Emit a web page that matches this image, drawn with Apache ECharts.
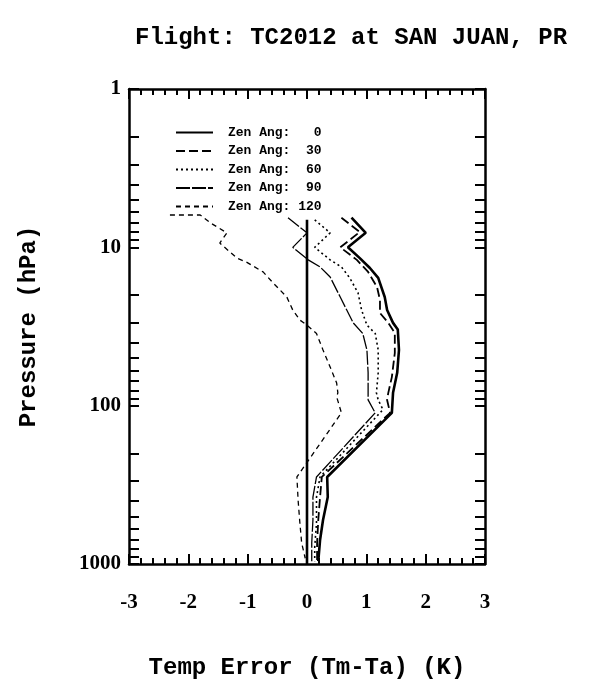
<!DOCTYPE html>
<html>
<head>
<meta charset="utf-8">
<script src="https://cdn.jsdelivr.net/npm/echarts@6/dist/echarts.min.js"></script>
<style>
html, body { margin: 0; padding: 0; background: #fff; }
#chart { width: 602px; height: 687px; }
</style>
</head>
<body>
<div id="chart"></div>
<script>
// values: pressure (hPa) and temp error (K)
const pres0 = [6.5, 8.1, 10, 11.7, 13.5, 15.6, 20.6, 24.9, 30, 33, 44.5, 62, 83, 111, 282, 378, 527, 706, 960]
const temp0 = [0.75, 0.99, 0.69, 0.89, 1.06, 1.20, 1.31, 1.35, 1.45, 1.53, 1.55, 1.52, 1.45, 1.43, 0.34, 0.35, 0.27, 0.22, 0.19]

const pres30 = [6.5, 8.0, 10, 12, 14.3, 17.8, 21.5, 26, 30, 34.8, 46.5, 66, 83, 92, 111, 282, 378, 527, 736, 960]
const temp30 = [0.58, 0.89, 0.56, 0.84, 1.03, 1.18, 1.23, 1.23, 1.37, 1.48, 1.48, 1.43, 1.37, 1.35, 1.40, 0.25, 0.22, 0.19, 0.17, 0.17]

const pres60 = [6.7, 8.1, 10, 12, 13.3, 15.6, 19.4, 24.9, 31, 35, 44.5, 62, 83, 92, 106, 282, 378, 551, 782, 960]
const temp60 = [0.13, 0.39, 0.13, 0.39, 0.58, 0.72, 0.86, 0.92, 1.01, 1.15, 1.20, 1.20, 1.17, 1.20, 1.28, 0.22, 0.16, 0.16, 0.13, 0.13]

const pres90 = [6.5, 8.1, 10, 12, 13.3, 15.4, 20.6, 24.9, 30, 35, 44.5, 62, 83, 92, 111, 282, 378, 527, 736, 960]
const temp90 = [-0.32, 0.0, -0.24, 0.02, 0.22, 0.39, 0.56, 0.67, 0.78, 0.94, 1.01, 1.03, 1.03, 1.03, 1.15, 0.16, 0.10, 0.10, 0.08, 0.08]

const pres120 = [6.25, 6.25, 7.0, 8.1, 9.4, 11.7, 12.4, 14.3, 16.8, 20.6, 24.9, 28.8, 31, 35, 44.5, 57, 72, 83, 88, 111, 282, 395, 551, 736, 920]
const temp120 = [-2.31, -1.80, -1.63, -1.35, -1.47, -1.18, -1.02, -0.74, -0.57, -0.34, -0.24, -0.12, 0.0, 0.16, 0.27, 0.39, 0.50, 0.52, 0.50, 0.58, -0.17, -0.15, -0.12, -0.09, -0.03]

const zeroPres = [6.7, 1000]
const zeroTemp = [0, 0]

const angles = ['0', '30', '60', '90', '120']
const presTicks = [1, 2, 3, 4, 5, 6, 7, 8, 9, 10, 20, 30, 40, 50, 60, 70, 80, 90, 100, 200, 300, 400, 500, 600, 700, 800, 900, 1000]
const presLabels = [1, 10, 100, 1000]

const lg = Math.log10
function pts(t, p) {
  return t.map((v, i) => [v, lg(p[i])])
}

const chart = echarts.init(document.getElementById('chart'))

const bold = { fontFamily: 'Liberation Serif', fontWeight: 'bold', color: '#000' }
const mono = { fontFamily: 'Liberation Mono', fontWeight: 'bold', color: '#000' }

function yAxis(pos, showLabel) {
  return {
    type: 'value',
    position: pos,
    inverse: true,
    min: 0,
    max: 3,
    name: showLabel ? 'Pressure (hPa)' : '',
    nameLocation: 'middle',
    nameGap: 88,
    nameTextStyle: Object.assign({ fontSize: 24 }, mono),
    axisLine: { show: true, onZero: false, lineStyle: { color: '#000', width: 2.5 } },
    axisTick: { show: true, inside: true, length: 10, customValues: presTicks.map(lg), lineStyle: { color: '#000', width: 2 } },
    axisLabel: {
      show: showLabel,
      customValues: presLabels.map(lg),
      formatter: v => String(Math.round(Math.pow(10, v))),
      fontSize: 21,
      margin: 8,
      padding: [0, 0, 12, 0],
      ...bold
    },
    splitLine: { show: false }
  }
}

function xAxis(pos, showLabel) {
  return {
    type: 'value',
    position: pos,
    min: -3,
    max: 3,
    interval: 1,
    name: showLabel ? 'Temp Error (Tm-Ta) (K)' : '',
    nameLocation: 'middle',
    nameGap: 92,
    nameTextStyle: Object.assign({ fontSize: 24 }, mono),
    axisLine: { show: true, onZero: false, lineStyle: { color: '#000', width: 2.5 } },
    axisTick: { show: true, inside: true, length: 10, lineStyle: { color: '#000', width: 2 } },
    minorTick: { show: true, splitNumber: 5, length: 6, lineStyle: { color: '#000', width: 2 } },
    axisLabel: { show: showLabel, fontSize: 21, margin: 28, ...bold },
    splitLine: { show: false }
  }
}

const styles = [
  { type: 'solid', width: 2.6 },
  { type: [9, 4], width: 1.8 },
  { type: [2, 3], width: 1.6 },
  { type: [14, 2], width: 1.3 },
  { type: [5, 4], width: 1.3 }
]
const data = [pts(temp0, pres0), pts(temp30, pres30), pts(temp60, pres60), pts(temp90, pres90), pts(temp120, pres120)]

const series = angles.map((a, i) => ({
  name: 'Zen Ang: ' + a.padStart(3, ' '),
  type: 'line',
  data: data[i],
  symbol: 'none',
  lineStyle: Object.assign({ color: '#000' }, styles[i]),
  itemStyle: { color: 'transparent', borderWidth: 0 },
  silent: true
}))
series.push({
  name: 'zero',
  type: 'line',
  data: pts(zeroTemp, zeroPres),
  symbol: 'none',
  lineStyle: { color: '#000', width: 2.6 },
  silent: true
})

chart.setOption({
  animation: false,
  backgroundColor: '#fff',
  title: {
    text: 'Flight: TC2012 at SAN JUAN, PR',
    left: 130,
    top: 21,
    textStyle: Object.assign({ fontSize: 24 }, mono)
  },
  legend: {
    data: series.slice(0, 5).map(s => s.name),
    orient: 'vertical',
    left: 170,
    top: 121,
    itemWidth: 37,
    itemHeight: 10,
    itemGap: 5.5,
    itemStyle: { color: 'transparent', borderWidth: 0, opacity: 0 },
    textStyle: Object.assign({ fontSize: 13, padding: [0, 0, 0, 10] }, mono),
    selectedMode: false
  },
  grid: { left: 129, right: 117, top: 89, bottom: 123 },
  xAxis: [xAxis('bottom', true), xAxis('top', false)],
  yAxis: [yAxis('left', true), yAxis('right', false)],
  series: series
})
</script>
</body>
</html>
